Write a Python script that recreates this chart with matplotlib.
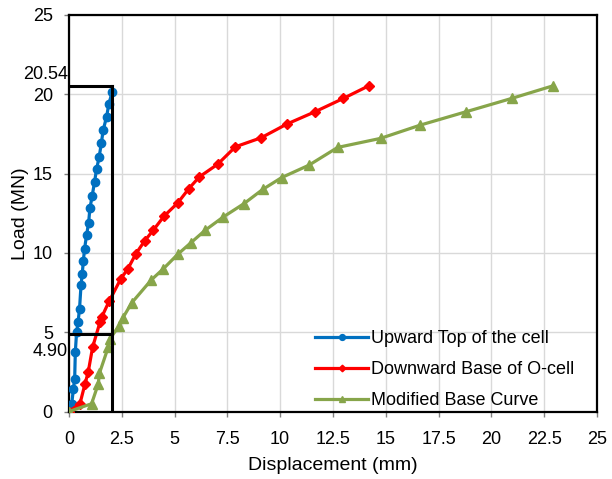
import matplotlib
matplotlib.use("Agg")
import matplotlib.pyplot as plt
import matplotlib.transforms as mtransforms

plt.rcParams['font.family'] = ['Liberation Sans', 'DejaVu Sans']

# Upward Top of the cell
up_x = [0, 0.13, 0.21, 0.27, 0.30, 0.36, 0.43, 0.50, 0.57, 0.63, 0.68, 0.74, 0.83,
        0.93, 0.99, 1.10, 1.21, 1.31, 1.43, 1.53, 1.62, 1.78, 1.89, 2.05]
up_y = [0, 0.48, 1.43, 2.06, 3.74, 5.0, 5.64, 6.48, 7.95, 8.7, 9.5, 10.27, 11.1,
        11.9, 12.8, 13.6, 14.48, 15.3, 16.05, 16.9, 17.74, 18.58, 19.4, 20.16]

# Downward Base of O-cell
down_x = [0, 0.52, 0.76, 0.91, 1.12, 1.47, 1.55, 1.9, 2.46, 2.79, 3.17, 3.58, 3.99,
          4.51, 5.15, 5.68, 6.17, 7.04, 7.88, 9.10, 10.31, 11.65, 12.99, 14.2]
down_y = [0, 0.49, 1.75, 2.48, 4.06, 5.64, 5.95, 6.95, 8.38, 9.0, 9.95, 10.75, 11.43,
          12.33, 13.15, 14.06, 14.79, 15.59, 16.69, 17.26, 18.12, 18.9, 19.74, 20.54]

# Modified Base Curve
mod_x = [0, 1.07, 1.39, 1.44, 1.86, 1.94, 2.38, 2.55, 2.97, 3.9, 4.47, 5.14, 5.78,
         6.45, 7.31, 8.29, 9.17, 10.07, 11.36, 12.72, 14.75, 16.64, 18.8, 20.96, 22.93]
mod_y = [0, 0.49, 1.75, 2.4, 4.06, 4.6, 5.4, 5.9, 6.85, 8.3, 9.0, 9.9, 10.65,
         11.43, 12.27, 13.11, 14.0, 14.75, 15.53, 16.65, 17.22, 18.06, 18.9, 19.74, 20.54]

labels = ["Upward Top of the cell", "Downward Base of O-cell", "Modified Base Curve"]

# reference box
box_x = 2.05
box_top = 20.54
box_low = 4.90

x_ticks = [0, 2.5, 5, 7.5, 10, 12.5, 15, 17.5, 20, 22.5, 25]
x_tick_labels = ["0", "2.5", "5", "7.5", "10", "12.5", "15", "17.5", "20", "22.5", "25"]
y_ticks = [0, 5, 10, 15, 20, 25]

fig = plt.figure(figsize=(6.12, 4.79), dpi=100)
ax = fig.add_axes([0.1127, 0.1409, 0.8628, 0.8278])

ax.plot(up_x, up_y, color='#0070C0', lw=2.3, marker='o', ms=6, label=labels[0], zorder=4)
ax.plot(down_x, down_y, color='#FF0000', lw=2.3, marker='D', ms=4.8, label=labels[1], zorder=4)
ax.plot(mod_x, mod_y, color='#87A54A', lw=2.3, marker='^', ms=7, label=labels[2], zorder=4)

# black box lines
ax.plot([box_x, box_x], [0, box_top], color='black', lw=2.2, zorder=5)
ax.plot([0, box_x], [box_top, box_top], color='black', lw=2.2, zorder=5)
ax.plot([0, box_x], [box_low, box_low], color='black', lw=2.2, zorder=5)

ax.set_xlim(0, 25)
ax.set_ylim(0, 25)
ax.set_xticks(x_ticks)
ax.set_xticklabels(x_tick_labels)
ax.set_yticks(y_ticks)
ax.tick_params(axis='both', labelsize=13, length=3.6, width=1, color='#808080')
ax.tick_params(axis='x', pad=10.5)
ax.tick_params(axis='y', pad=8)

ax.grid(True, color='#d9d9d9', lw=1)
ax.set_axisbelow(True)
for s in ax.spines.values():
    s.set_color('black')
    s.set_linewidth(1.6)

ax.set_xlabel("Displacement (mm)", fontsize=14, labelpad=6.5)
ax.set_ylabel("Load (MN)", fontsize=14, labelpad=3)

trans = mtransforms.blended_transform_factory(ax.transAxes, ax.transData)
ax.annotate(f"{box_top:.2f}", xy=(-0.002, box_top), xycoords=trans,
            xytext=(0, 8), textcoords='offset points', ha='right', va='center', fontsize=13,
            annotation_clip=False)
ax.annotate(f"{box_low:.2f}", xy=(-0.002, box_low), xycoords=trans,
            xytext=(0, -13), textcoords='offset points', ha='right', va='center', fontsize=13,
            annotation_clip=False)

ax.legend(loc='lower left', bbox_to_anchor=(0.436, -0.035), frameon=False, fontsize=13,
          handlelength=2.9, handletextpad=0.2, labelspacing=0.77, markerscale=0.7)

fig.savefig("out.png", dpi=100)
